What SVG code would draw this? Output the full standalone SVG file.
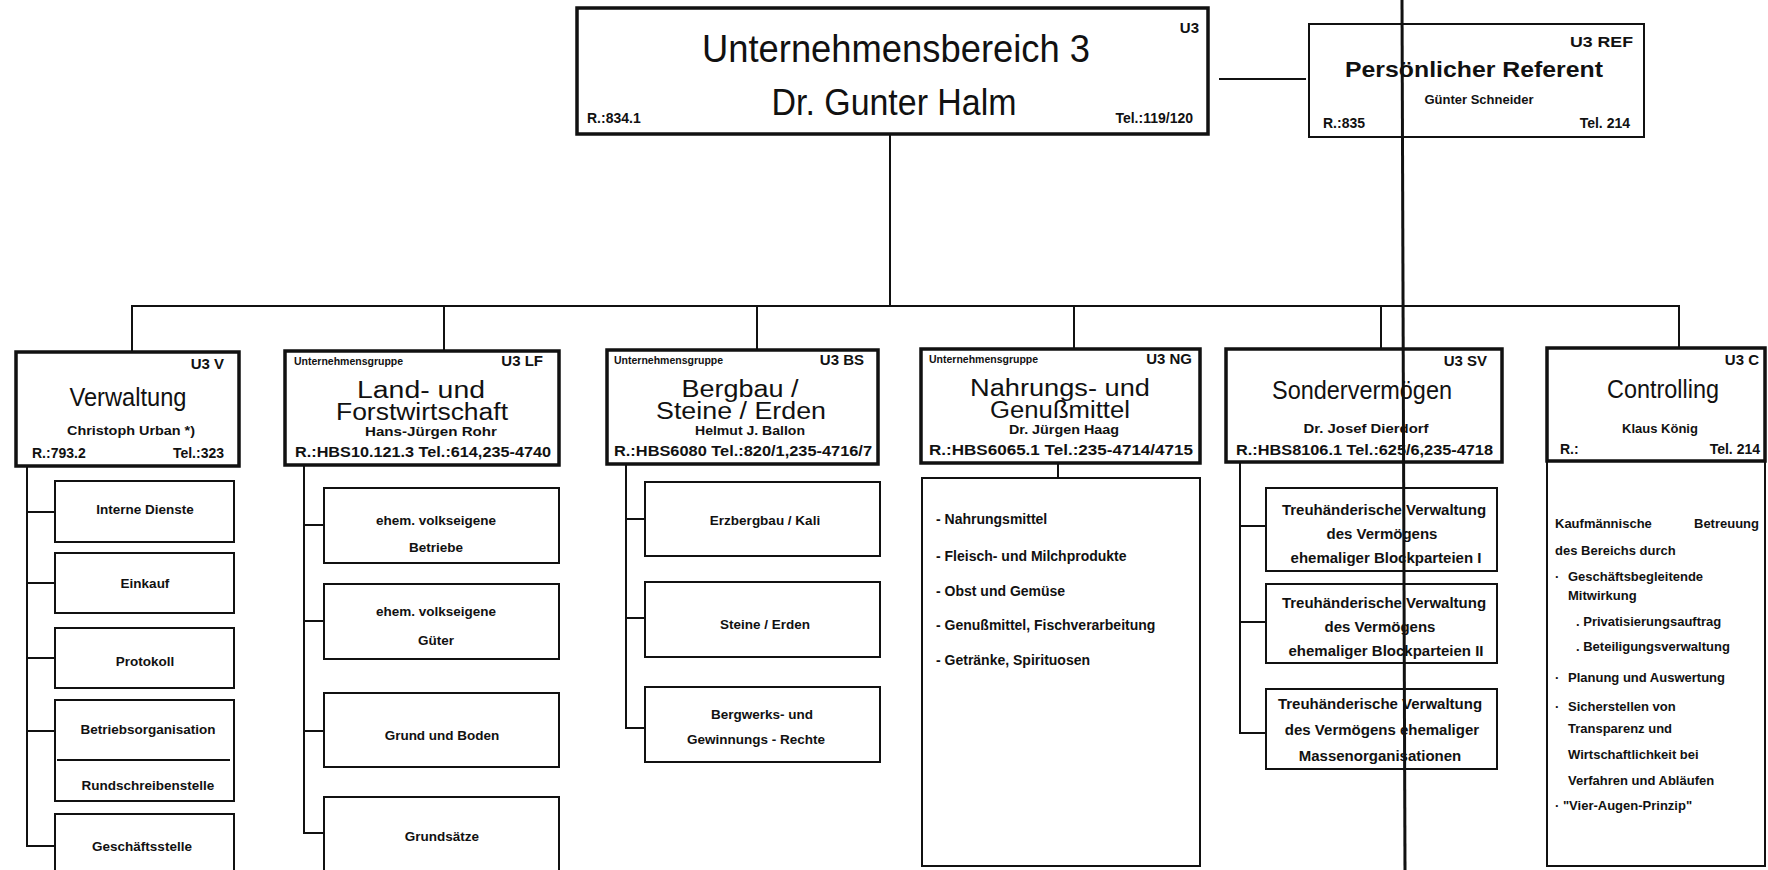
<svg xmlns="http://www.w3.org/2000/svg" width="1768" height="870" viewBox="0 0 1768 870">
<style>
  text { font-family: "Liberation Sans", Arial, sans-serif; fill: #111; }
  .head { fill: #fff; stroke: #111; stroke-width: 3.5; }
  .box { fill: #fff; stroke: #111; stroke-width: 2; }
  .ln { fill: none; stroke: #111; stroke-width: 2; }
  .title { font-size: 25px; text-anchor: middle; }
  .title2 { font-size: 23px; text-anchor: middle; }
  .tag { font-size: 15px; font-weight: bold; text-anchor: end; }
  .grp { font-size: 10.5px; font-weight: bold; }
  .name { font-size: 13px; font-weight: bold; text-anchor: middle; }
  .room { font-size: 14px; font-weight: bold; }
  .lbl { font-size: 13.5px; font-weight: bold; text-anchor: middle; }
  .trh { font-size: 15px; font-weight: bold; text-anchor: middle; }
  .item { font-size: 14px; font-weight: bold; }
  .ctl { font-size: 13px; font-weight: bold; }
</style>
<rect width="1768" height="870" fill="#fff"/>

<g id="connectors">
  <line class="ln" x1="890" y1="135" x2="890" y2="306"/>
  <line class="ln" x1="1219" y1="79" x2="1306" y2="79"/>
  <line class="ln" x1="131" y1="306" x2="1680" y2="306"/>
  <line class="ln" x1="132" y1="306" x2="132" y2="352"/>
  <line class="ln" x1="444" y1="306" x2="444" y2="351"/>
  <line class="ln" x1="757" y1="306" x2="757" y2="350"/>
  <line class="ln" x1="1074" y1="306" x2="1074" y2="349"/>
  <line class="ln" x1="1381" y1="306" x2="1381" y2="349"/>
  <line class="ln" x1="1679" y1="306" x2="1679" y2="348"/>
  <!-- Verwaltung column -->
  <polyline class="ln" points="27,466 27,846 55,846"/>
  <line class="ln" x1="27" y1="512" x2="55" y2="512"/>
  <line class="ln" x1="27" y1="583" x2="55" y2="583"/>
  <line class="ln" x1="27" y1="658" x2="55" y2="658"/>
  <line class="ln" x1="27" y1="731" x2="55" y2="731"/>
  <!-- Land- und Forstwirtschaft column -->
  <polyline class="ln" points="304,465 304,833 324,833"/>
  <line class="ln" x1="304" y1="525" x2="324" y2="525"/>
  <line class="ln" x1="304" y1="621" x2="324" y2="621"/>
  <line class="ln" x1="304" y1="731" x2="324" y2="731"/>
  <!-- Bergbau column -->
  <polyline class="ln" points="626,464 626,728 645,728"/>
  <line class="ln" x1="626" y1="519" x2="645" y2="519"/>
  <line class="ln" x1="626" y1="618" x2="645" y2="618"/>
  <!-- Nahrungs- und Genussmittel -->
  <line class="ln" x1="1058" y1="463" x2="1058" y2="478"/>
  <!-- Sondervermoegen column -->
  <polyline class="ln" points="1240,462 1240,733 1266,733"/>
  <line class="ln" x1="1240" y1="526" x2="1266" y2="526"/>
  <line class="ln" x1="1240" y1="622" x2="1266" y2="622"/>
</g>

<g id="u3">
  <rect class="head" x="577" y="8" width="631" height="126" stroke-width="4"/>
  <text x="1199" y="33" class="tag" font-size="17">U3</text>
  <text x="896" y="62" font-size="38" text-anchor="middle" textLength="388" lengthAdjust="spacingAndGlyphs">Unternehmensbereich 3</text>
  <text x="894" y="115" font-size="36" text-anchor="middle" textLength="245" lengthAdjust="spacingAndGlyphs">Dr. Gunter Halm</text>
  <text x="587" y="123" class="room">R.:834.1</text>
  <text x="1193" y="123" class="room" text-anchor="end">Tel.:119/120</text>
</g>

<g id="u3-ref">
  <rect class="box" x="1309" y="24" width="335" height="113"/>
  <text x="1633" y="47" class="tag" textLength="63" lengthAdjust="spacingAndGlyphs">U3 REF</text>
  <text x="1474" y="77" font-size="22" font-weight="bold" text-anchor="middle" textLength="258" lengthAdjust="spacingAndGlyphs">Persönlicher Referent</text>
  <text x="1479" y="104" class="name" font-size="12">Günter Schneider</text>
  <text x="1323" y="128" class="room">R.:835</text>
  <text x="1630" y="128" class="room" text-anchor="end">Tel. 214</text>
</g>

<g id="u3-v">
  <rect class="head" x="16" y="352" width="223" height="114"/>
  <text x="224" y="369" class="tag">U3 V</text>
  <text x="128" y="406" class="title" textLength="117" lengthAdjust="spacingAndGlyphs">Verwaltung</text>
  <text x="131" y="435" class="name" textLength="128" lengthAdjust="spacingAndGlyphs">Christoph Urban *)</text>
  <text x="32" y="458" class="room">R.:793.2</text>
  <text x="224" y="458" class="room" text-anchor="end">Tel.:323</text>
  <rect class="box" x="55" y="481" width="179" height="61"/>
  <text x="145" y="514" class="lbl">Interne Dienste</text>
  <rect class="box" x="55" y="553" width="179" height="60"/>
  <text x="145" y="588" class="lbl">Einkauf</text>
  <rect class="box" x="55" y="628" width="179" height="60"/>
  <text x="145" y="666" class="lbl">Protokoll</text>
  <rect class="box" x="55" y="700" width="179" height="101"/>
  <line class="ln" x1="57" y1="760" x2="230" y2="760"/>
  <text x="148" y="734" class="lbl">Betriebsorganisation</text>
  <text x="148" y="790" class="lbl">Rundschreibenstelle</text>
  <rect class="box" x="55" y="814" width="179" height="80"/>
  <text x="142" y="851" class="lbl">Geschäftsstelle</text>
</g>

<g id="u3-lf">
  <rect class="head" x="285" y="351" width="274" height="114"/>
  <text x="294" y="365" class="grp">Unternehmensgruppe</text>
  <text x="543" y="366" class="tag">U3 LF</text>
  <text x="421" y="398" class="title2" textLength="128" lengthAdjust="spacingAndGlyphs">Land- und</text>
  <text x="422" y="420" class="title2" textLength="172" lengthAdjust="spacingAndGlyphs">Forstwirtschaft</text>
  <text x="431" y="436" class="name" textLength="132" lengthAdjust="spacingAndGlyphs">Hans-Jürgen Rohr</text>
  <text x="295" y="457" class="room" textLength="256" lengthAdjust="spacingAndGlyphs">R.:HBS10.121.3 Tel.:614,235-4740</text>
  <rect class="box" x="324" y="488" width="235" height="75"/>
  <text x="436" y="525" class="lbl">ehem. volkseigene</text>
  <text x="436" y="552" class="lbl">Betriebe</text>
  <rect class="box" x="324" y="584" width="235" height="75"/>
  <text x="436" y="616" class="lbl">ehem. volkseigene</text>
  <text x="436" y="645" class="lbl">Güter</text>
  <rect class="box" x="324" y="693" width="235" height="74"/>
  <text x="442" y="740" class="lbl">Grund und Boden</text>
  <rect class="box" x="324" y="797" width="235" height="90"/>
  <text x="442" y="841" class="lbl">Grundsätze</text>
</g>

<g id="u3-bs">
  <rect class="head" x="607" y="350" width="271" height="114"/>
  <text x="614" y="364" class="grp">Unternehmensgruppe</text>
  <text x="864" y="365" class="tag">U3 BS</text>
  <text x="740" y="397" class="title2" textLength="117" lengthAdjust="spacingAndGlyphs">Bergbau /</text>
  <text x="741" y="419" class="title2" textLength="170" lengthAdjust="spacingAndGlyphs">Steine / Erden</text>
  <text x="750" y="435" class="name" textLength="110" lengthAdjust="spacingAndGlyphs">Helmut J. Ballon</text>
  <text x="614" y="456" class="room" textLength="258" lengthAdjust="spacingAndGlyphs">R.:HBS6080 Tel.:820/1,235-4716/7</text>
  <rect class="box" x="645" y="482" width="235" height="74"/>
  <text x="765" y="525" class="lbl">Erzbergbau / Kali</text>
  <rect class="box" x="645" y="582" width="235" height="75"/>
  <text x="765" y="629" class="lbl">Steine / Erden</text>
  <rect class="box" x="645" y="687" width="235" height="75"/>
  <text x="762" y="719" class="lbl">Bergwerks- und</text>
  <text x="756" y="744" class="lbl">Gewinnungs - Rechte</text>
</g>

<g id="u3-ng">
  <rect class="head" x="921" y="349" width="279" height="114"/>
  <text x="929" y="363" class="grp">Unternehmensgruppe</text>
  <text x="1192" y="364" class="tag">U3 NG</text>
  <text x="1060" y="396" class="title2" textLength="180" lengthAdjust="spacingAndGlyphs">Nahrungs- und</text>
  <text x="1060" y="418" class="title2" textLength="140" lengthAdjust="spacingAndGlyphs">Genußmittel</text>
  <text x="1064" y="434" class="name" textLength="110" lengthAdjust="spacingAndGlyphs">Dr. Jürgen Haag</text>
  <text x="929" y="455" class="room" textLength="264" lengthAdjust="spacingAndGlyphs">R.:HBS6065.1 Tel.:235-4714/4715</text>
  <rect class="box" x="922" y="478" width="278" height="388"/>
  <text x="936" y="524" class="item">- Nahrungsmittel</text>
  <text x="936" y="561" class="item">- Fleisch- und Milchprodukte</text>
  <text x="936" y="596" class="item">- Obst und Gemüse</text>
  <text x="936" y="630" class="item">- Genußmittel, Fischverarbeitung</text>
  <text x="936" y="665" class="item">- Getränke, Spirituosen</text>
</g>

<g id="u3-sv">
  <rect class="head" x="1226" y="349" width="276" height="113"/>
  <text x="1487" y="366" class="tag">U3 SV</text>
  <text x="1362" y="399" class="title" textLength="180" lengthAdjust="spacingAndGlyphs">Sondervermögen</text>
  <text x="1366" y="433" class="name" textLength="125" lengthAdjust="spacingAndGlyphs">Dr. Josef Dierdorf</text>
  <text x="1236" y="455" class="room" textLength="257" lengthAdjust="spacingAndGlyphs">R.:HBS8106.1 Tel.:625/6,235-4718</text>
  <rect class="box" x="1266" y="488" width="231" height="83"/>
  <text x="1384" y="515" class="trh">Treuhänderische Verwaltung</text>
  <text x="1382" y="539" class="trh">des Vermögens</text>
  <text x="1386" y="563" class="trh">ehemaliger Blockparteien I</text>
  <rect class="box" x="1266" y="584" width="231" height="79"/>
  <text x="1384" y="608" class="trh">Treuhänderische Verwaltung</text>
  <text x="1380" y="632" class="trh">des Vermögens</text>
  <text x="1386" y="656" class="trh">ehemaliger Blockparteien II</text>
  <rect class="box" x="1266" y="689" width="231" height="80"/>
  <text x="1380" y="709" class="trh">Treuhänderische Verwaltung</text>
  <text x="1382" y="735" class="trh">des Vermögens ehemaliger</text>
  <text x="1380" y="761" class="trh">Massenorganisationen</text>
</g>

<g id="u3-c">
  <rect class="box" x="1547" y="461" width="218" height="405"/>
  <rect class="head" x="1547" y="348" width="218" height="113"/>
  <text x="1759" y="365" class="tag">U3 C</text>
  <text x="1663" y="398" class="title" textLength="112" lengthAdjust="spacingAndGlyphs">Controlling</text>
  <text x="1660" y="433" class="name">Klaus König</text>
  <text x="1560" y="454" class="room">R.:</text>
  <text x="1760" y="454" class="room" text-anchor="end">Tel. 214</text>
  <text x="1555" y="528" class="ctl">Kaufmännische</text>
  <text x="1759" y="528" class="ctl" text-anchor="end">Betreuung</text>
  <text x="1555" y="555" class="ctl">des Bereichs durch</text>
  <text x="1555" y="581" class="ctl">·<tspan x="1568">Geschäftsbegleitende</tspan></text>
  <text x="1568" y="600" class="ctl">Mitwirkung</text>
  <text x="1576" y="626" class="ctl">. Privatisierungsauftrag</text>
  <text x="1576" y="651" class="ctl">. Beteiligungsverwaltung</text>
  <text x="1555" y="682" class="ctl">·<tspan x="1568">Planung und Auswertung</tspan></text>
  <text x="1555" y="711" class="ctl">·<tspan x="1568">Sicherstellen von</tspan></text>
  <text x="1568" y="733" class="ctl">Transparenz und</text>
  <text x="1568" y="759" class="ctl">Wirtschaftlichkeit bei</text>
  <text x="1568" y="785" class="ctl">Verfahren und Abläufen</text>
  <text x="1555" y="810" class="ctl">· "Vier-Augen-Prinzip"</text>
</g>

<line id="crease" x1="1402" y1="0" x2="1405" y2="870" stroke="#111" stroke-width="3"/>
</svg>
